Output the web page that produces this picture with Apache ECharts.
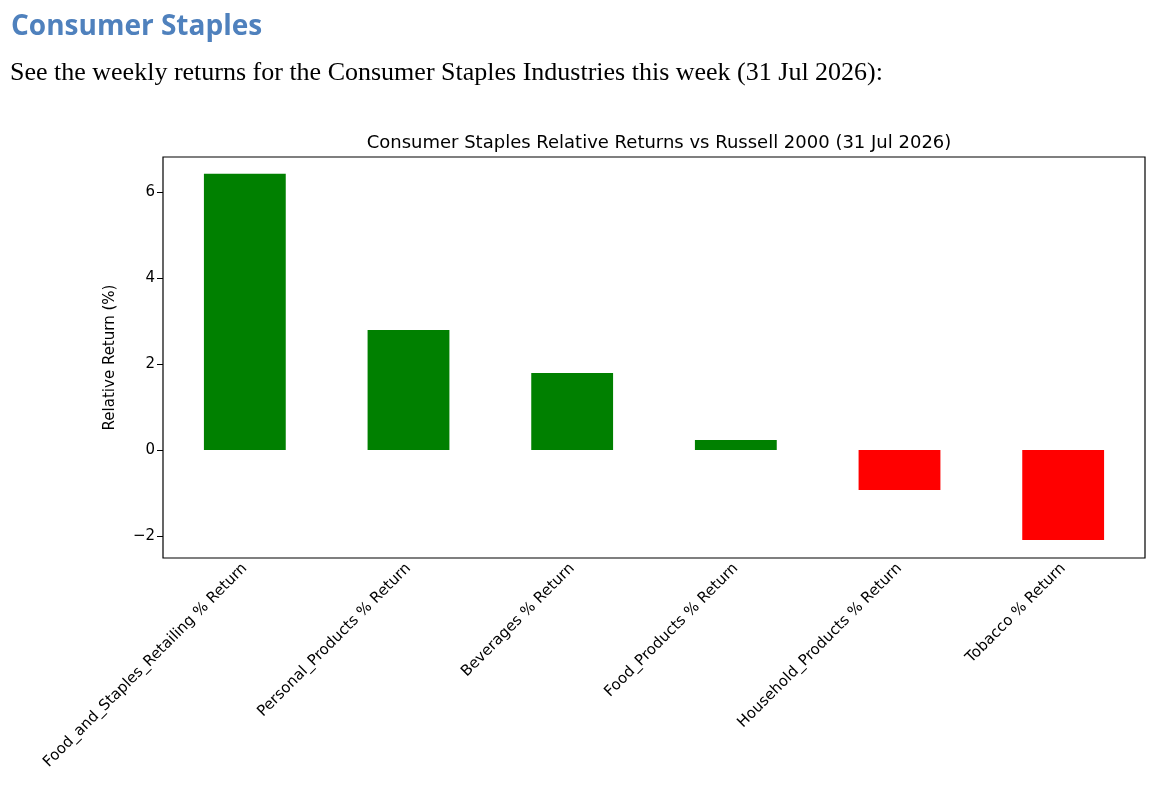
<!DOCTYPE html>
<html>
<head>
<meta charset="utf-8">
<script src="https://cdn.jsdelivr.net/npm/echarts@6/dist/echarts.min.js"></script>
<style>
  body { margin: 0; background: #fff; }
  #chart { width: 1154px; height: 800px; }
</style>
</head>
<body>
<div id="chart"></div>
<script>
var categories = ['Food_and_Staples_Retailing % Return', 'Personal_Products % Return', 'Beverages % Return',
  'Food_Products % Return', 'Household_Products % Return', 'Tobacco % Return'];
var values = [6.42, 2.79, 1.79, 0.23, -0.93, -2.09];
var yTicks = [-2, 0, 2, 4, 6];

(function(){
	var myChart = echarts.init(document.getElementById('chart'));
	var option = {
		animation: false,
		title: [
			{ text: 'Consumer Staples', left: 6, top: 8,
			  textStyle: { color: '#4f81bd', fontSize: 28, fontWeight: 'bold', fontFamily: 'Open Sans' } },
			{ text: 'See the weekly returns for the Consumer Staples Industries this week (31 Jul 2026):', left: 5, top: 55,
			  textStyle: { color: '#000', fontSize: 26, fontWeight: 'normal', fontFamily: 'Liberation Serif' } },
			{ text: 'Consumer Staples Relative Returns vs Russell 2000 (31 Jul 2026)', left: 654, textAlign: 'center', top: 129,
			  textStyle: { color: '#000', fontSize: 18, fontWeight: 'normal', fontFamily: 'DejaVu Sans' } }
		],
		grid: { left: 163, right: 9, top: 157, bottom: 242, show: true, borderColor: '#000', borderWidth: 1.2 },
		xAxis: {
			type: 'category',
			data: categories,
			axisLine: { show: false },
			axisTick: { alignWithLabel: true, length: 6, lineStyle: { color: '#000' } },
			axisLabel: { rotate: 45, color: '#000', fontSize: 15, fontFamily: 'DejaVu Sans', margin: 8, interval: 0 }
		},
		yAxis: {
			type: 'value',
			min: -2.51, max: 6.81,
			name: 'Relative Return (%)',
			nameLocation: 'middle', nameGap: 45,
			nameTextStyle: { color: '#000', fontSize: 15, fontFamily: 'DejaVu Sans' },
			splitLine: { show: false },
			axisLine: { show: false },
			axisTick: { show: true, length: 6, customValues: yTicks, lineStyle: { color: '#000' } },
			axisLabel: { color: '#000', fontSize: 15, fontFamily: 'DejaVu Sans', customValues: yTicks,
				formatter: function(v){ return v < 0 ? '\u2212' + Math.abs(v) : String(v); } }
		},
		series: [{
			type: 'bar',
			barCategoryGap: '50%',
			data: values.map(function(v){
				return { value: v, itemStyle: { color: v >= 0 ? '#008000' : '#ff0000' } };
			})
		}]
	};
	myChart.setOption(option);
})();
</script>
</body>
</html>
